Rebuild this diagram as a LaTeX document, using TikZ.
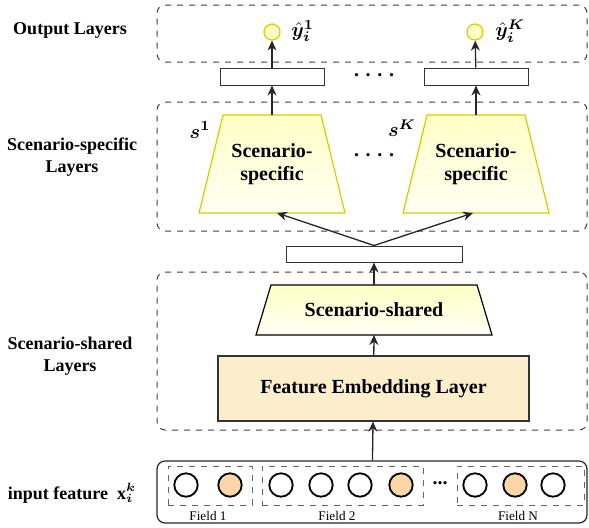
\documentclass[tikz,border=0pt]{standalone}
\usepackage{amsmath,amssymb,bm}
\usepackage{fontspec}
\setmainfont{Liberation Serif}
\usetikzlibrary{arrows.meta}

\definecolor{specline}{HTML}{D8CC00}
\definecolor{outfill}{HTML}{FFFFC4}
\definecolor{trtop}{HTML}{FFFFC6}
\definecolor{trbot}{HTML}{FFFFF4}
\definecolor{embfill}{HTML}{FCEECB}
\definecolor{fieldor}{HTML}{F9D5A7}

\begin{document}
\begin{tikzpicture}[x=0.5pt,y=-0.5pt,
    layerbox/.style={draw=black!75,dashed,rounded corners=4pt,line width=0.5pt},
    arr/.style={-{Stealth[length=5pt,width=4.5pt]},line width=0.65pt,black!85},
    big/.style={font=\fontsize{10}{11.5}\selectfont\bfseries,align=center},
    side/.style={font=\fontsize{9}{11}\selectfont\bfseries,align=center},
    hidbox/.style={draw=black!80,line width=0.5pt,inner sep=0pt},
    trapfill/.style={top color=trtop,bottom color=trbot,line width=0.6pt},
    fcirc/.style={circle,draw,line width=0.9pt,minimum size=11.7pt,inner sep=0pt},
    fbox/.style={draw=black!60,dashed,line width=0.45pt,inner sep=0pt},
    fieldlab/.style={font=\fontsize{6.6}{8}\selectfont},
  ]
  \useasboundingbox (0,0) rectangle (589,527);

  % layer frames
  \node[layerbox,minimum width=215pt,minimum height=28.5pt] (outlay)  at (372,33.5) {};
  \node[layerbox,minimum width=215pt,minimum height=64.5pt] (speclay) at (372,166.5) {};
  \node[layerbox,minimum width=215pt,minimum height=79pt]   (shlay)   at (372,351) {};

  \node[side] (lout)   at (70,30)  {Output Layers};
  \node[side] (lspec)  at (72,157) {Scenario-specific\\Layers};
  \node[side] (lshare) at (70,356) {Scenario-shared\\Layers};
  \node[side] (lin)    at (72,493) {input feature\ \ $\mathbf{x}_{\bm i}^{\bm k}$};

  % output layers
  \node[circle,draw=specline,fill=outfill,line width=0.6pt,minimum size=8pt,inner sep=0pt] (out1) at (272,32) {};
  \node[circle,draw=specline,fill=outfill,line width=0.6pt,minimum size=8pt,inner sep=0pt] (outK) at (475,32) {};
  \node[anchor=west,inner sep=0pt] (yh1) at (291,31) {$\bm{\hat y_i^1}$};
  \node[anchor=west,inner sep=0pt] (yhK) at (495,31) {$\bm{\hat y_i^K}$};

  \node[hidbox,minimum width=52pt,minimum height=8.5pt] (hid1) at (272,76.5) {};
  \node[hidbox,minimum width=52pt,minimum height=8.5pt] (hidK) at (476,76.5) {};
  \node[big] (dots1) at (374,75) {.\,\,.\,\,.\,\,.};

  % scenario-specific layers
  \foreach \n/\cx in {spec1/272,specK/476} {
    \shadedraw[trapfill,draw=specline] (\cx-49,115) -- (\cx+49,115) -- (\cx+73,213) -- (\cx-73,213) -- cycle;
    \coordinate (\n-t) at (\cx,115);
  }
  \coordinate (spec1-b) at (277,213);
  \coordinate (specK-b) at (473,213);
  \node[big] (spec1) at (272,164) {Scenario-\\specific};
  \node[big] (specK) at (476,164) {Scenario-\\specific};
  \node[inner sep=0pt] (s1) at (200,130) {$\bm{s^1}$};
  \node[inner sep=0pt] (sK) at (402,128) {$\bm{s^K}$};
  \node[big] (dots2) at (374,155) {.\,\,.\,\,.\,\,.};

  % scenario-shared layers
  \node[hidbox,minimum width=88pt,minimum height=8pt] (shrd) at (374,254) {};
  \shadedraw[trapfill,draw=black] (271,285) -- (477,285) -- (492,335) -- (256,335) -- cycle;
  \coordinate (share-t) at (374,285);
  \coordinate (share-b) at (374,335);
  \node[big] (share) at (374,310) {Scenario-shared};
  \node[draw=black!80,fill=embfill,line width=0.6pt,minimum width=155.5pt,minimum height=32.5pt,big] (emb) at (373.5,388.5) {Feature Embedding Layer};

  % input feature
  \node[draw=black!85,rounded corners=4pt,line width=0.6pt,minimum width=215pt,minimum height=31pt] (inbox) at (372,492) {};
  \node[fbox,minimum width=42pt,minimum height=19.5pt]   (f1) at (210,485.5) {};
  \node[fbox,minimum width=80.5pt,minimum height=19.5pt] (f2) at (342.5,485.5) {};
  \node[fbox,minimum width=63.5pt,minimum height=19.5pt] (fN) at (520.5,485.5) {};
  \foreach \x/\c [count=\i] in {186/white,230/fieldor,281/white,321/white,360/white,401/fieldor,475/white,515/fieldor,553/white}
    \node[fcirc,fill=\c] (c\i) at (\x,485) {};
  \node[font=\bfseries] (dots3) at (440,483) {...};
  \node[fieldlab] (lf1) at (208,516) {Field 1};
  \node[fieldlab] (lf2) at (337,516) {Field 2};
  \node[fieldlab] (lfN) at (518,516) {Field N};

  % connections
  \draw[arr] (inbox) -- (emb);
  \draw[arr] (emb) -- (share-b);
  \draw[arr] (share-t) -- (shrd);
  \draw[arr] (shrd.north) -- (spec1-b);
  \draw[arr] (shrd.north) -- (specK-b);
  \draw[arr] (spec1-t) -- (hid1);
  \draw[arr] (specK-t) -- (hidK);
  \draw[arr] (hid1) -- (out1);
  \draw[arr] (hidK) -- (outK);
\end{tikzpicture}
\end{document}
